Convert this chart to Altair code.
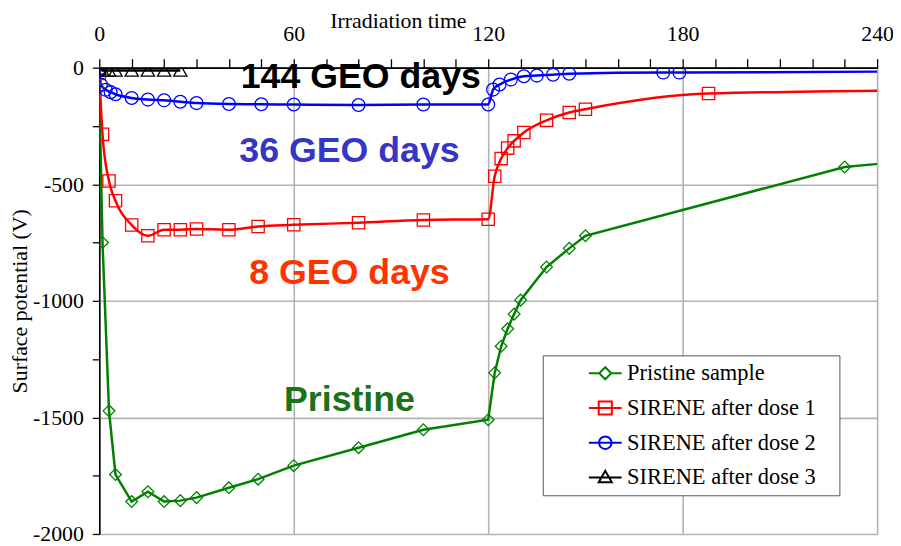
import altair as alt
import pandas as pd

series_names = ["Pristine sample", "SIRENE after dose 1", "SIRENE after dose 2", "SIRENE after dose 3"]
series_colors = ["#008000", "#ff0000", "#0000ff", "#000000"]

pristine_t = [0, 1, 3, 5, 10, 15, 20, 25, 30, 40, 49, 60, 80, 100, 120, 122, 124, 126, 128, 130, 138, 145, 150, 230, 270]
pristine_v = [-90, -750, -1472, -1745, -1861, -1819, -1861, -1857, -1844, -1802, -1765, -1707, -1630, -1553, -1510,
              -1309, -1195, -1120, -1057, -997, -855, -775, -721, -426, -374]

dose1_t = [0, 1, 3, 5, 10, 15, 20, 25, 30, 40, 49, 60, 80, 100, 120, 122, 124, 126, 128, 131, 138, 145, 150, 188, 270]
dose1_v = [-25, -286, -486, -571, -675, -721, -695, -695, -692, -695, -681, -674, -665, -653, -650,
           -466, -390, -345, -314, -278, -226, -192, -178, -111, -95]

dose2_t = [0, 0.5, 2, 3.5, 5, 10, 15, 20, 25, 30, 40, 50, 60, 80, 100, 120, 121.5, 123.5, 127, 131, 135, 140, 145, 174, 179, 270]
dose2_v = [-10, -72, -95, -105, -114, -130, -137, -140, -146, -152, -156, -157, -158, -160, -158, -158,
           -94, -72, -51, -37, -34, -30, -26, -21, -21, -15]

dose3_t = [0, 1, 3, 5, 10, 15, 20, 25]
dose3_v = [-3, -12, -12, -12, -12, -12, -12, -12]

x_ticks = list(range(0, 241, 10))
y_ticks = list(range(0, -2001, -250))

annot_text = ["144 GEO days", "36 GEO days", "8 GEO days", "Pristine"]
annot_t = [80.7, 77.2, 77.2, 77.2]
annot_v = [-39, -357, -882, -1426]
annot_colors = ["#000000", "#3535c8", "#ff3300", "#1a721a"]

rows = []
for name, ts, vs in zip(series_names, [pristine_t, dose1_t, dose2_t, dose3_t], [pristine_v, dose1_v, dose2_v, dose3_v]):
    for t, v in zip(ts, vs):
        rows.append({"series": name, "t": t, "v": v})
df = pd.DataFrame(rows)

# legend-only rows, placed outside the x domain so they are clipped away
legend_df = pd.DataFrame({"series": series_names, "t": [1000] * 4, "v": [0] * 4})

serif = "Liberation Serif"

x_axis = alt.Axis(
    orient="top", values=x_ticks,
    labelExpr="datum.value % 60 === 0 ? '' + datum.value : ''",
    labelFont=serif, labelFontSize=22, labelColor="black", labelPadding=13,
    labelFlush=False, labelOverlap=False,
    tickSize=9, tickColor="black", tickWidth=1.3,
    domainColor="black", domainWidth=1.6,
    grid=True, gridColor="#b3b3b3", gridWidth=1.6,
    gridOpacity={"condition": {"test": "datum.value % 60 === 0", "value": 1}, "value": 0},
    title="Irradiation time", titleFont=serif, titleFontSize=22, titleFontWeight="normal",
    titleColor="black", titleX=301, titleY=-47, titleAlign="center", titleBaseline="middle",
)
y_axis = alt.Axis(
    values=y_ticks,
    labelExpr="datum.value % 500 === 0 ? '' + datum.value : ''",
    labelFont=serif, labelFontSize=22, labelColor="black", labelPadding=9,
    labelOverlap=False,
    tickSize=7, tickColor="black", tickWidth=1.3,
    domainColor="black", domainWidth=1.6,
    grid=True, gridColor="#b3b3b3", gridWidth=1.6,
    gridOpacity={"condition": {"test": "datum.value % 500 === 0", "value": 1}, "value": 0},
    title="Surface potential (V)", titleFont=serif, titleFontSize=22, titleFontWeight="normal",
    titleColor="black", titleX=-80, titleY=235, titleAngle=270, titleAlign="center", titleBaseline="middle",
)

X = alt.X("t:Q", scale=alt.Scale(domain=[0, 240], nice=False, zero=False), axis=x_axis)
Y = alt.Y("v:Q", scale=alt.Scale(domain=[-2000, 0], nice=False, zero=False), axis=y_axis)

color_scale = alt.Scale(domain=series_names, range=series_colors)

# legend glyphs: a short line with the series marker (unit = 11 px)
legend_paths = [
    "M-1.5,0L-0.55,0M0.55,0L1.5,0M-0.55,0L0,-0.55L0.55,0L0,0.55Z",
    "M-1.5,0L1.5,0M-0.6,-0.6L0.6,-0.6L0.6,0.6L-0.6,0.6Z",
    "M-1.5,0L1.5,0M-0.57,0A0.57,0.57,0,1,0,0.57,0A0.57,0.57,0,1,0,-0.57,0Z",
    "M-1.5,0L1.5,0M0,-0.6L0.6,0.45L-0.6,0.45Z",
]

legend = alt.Legend(
    title=None, orient="none", legendX=447, legendY=290,
    symbolSize=484, symbolStrokeWidth=2, symbolOffset=45, labelOffset=10,
    padding=6, rowPadding=11,
    labelFont=serif, labelFontSize=22.6, labelColor="black", labelLimit=400,
    labelExpr="datum.label + '\u2800'",
    strokeColor="#555555", fillColor="white",
)

linear_lines = alt.Chart(df).transform_filter(
    alt.FieldOneOfPredicate(field="series", oneOf=[series_names[0], series_names[3]])
).mark_line(strokeWidth=2.5, clip=True).encode(
    x=X, y=Y, color=alt.Color("series:N", scale=color_scale, legend=None)
)

smooth_lines = alt.Chart(df).transform_filter(
    alt.FieldOneOfPredicate(field="series", oneOf=[series_names[1], series_names[2]])
).mark_line(strokeWidth=2.5, interpolate="monotone", clip=True).encode(
    x=X, y=Y, color=alt.Color("series:N", scale=color_scale, legend=None)
)

points = alt.Chart(df).mark_point(filled=False, strokeWidth=1.3, opacity=1, clip=True).encode(
    x=X, y=Y,
    color=alt.Color("series:N", scale=color_scale, legend=None),
    shape=alt.Shape("series:N", scale=alt.Scale(domain=series_names,
                    range=["diamond", "square", "circle", "triangle-up"]), legend=None),
    size=alt.Size("series:N", scale=alt.Scale(domain=series_names, range=[140, 180, 160, 130]), legend=None),
)

legend_layer = alt.Chart(legend_df).mark_point(filled=False, strokeWidth=2, size=484, opacity=1, clip=True).encode(
    x=X, y=Y,
    color=alt.Color("series:N", scale=color_scale, legend=legend),
    shape=alt.Shape("series:N", scale=alt.Scale(domain=series_names, range=legend_paths), legend=legend),
)

texts = []
for txt, t, v, col in zip(annot_text, annot_t, annot_v, annot_colors):
    tdf = pd.DataFrame({"t": [t], "v": [v], "label": [txt]})
    texts.append(
        alt.Chart(tdf).mark_text(font="Liberation Sans", fontWeight="bold", fontSize=36,
                                 align="center", baseline="middle", color=col)
        .encode(x=X, y=Y, text="label:N")
    )

chart = alt.layer(linear_lines, smooth_lines, points, legend_layer, *texts).resolve_scale(
    color="independent", shape="independent"
).properties(
    width=784, height=470,
    autosize=alt.AutoSizeParams(type="none"),
    padding={"left": 92, "top": 58, "right": 16, "bottom": 12},
).configure_view(stroke="black", strokeWidth=1.6).configure(background="white")

chart.save("out.html", embed_options={"renderer": "svg", "actions": False})
